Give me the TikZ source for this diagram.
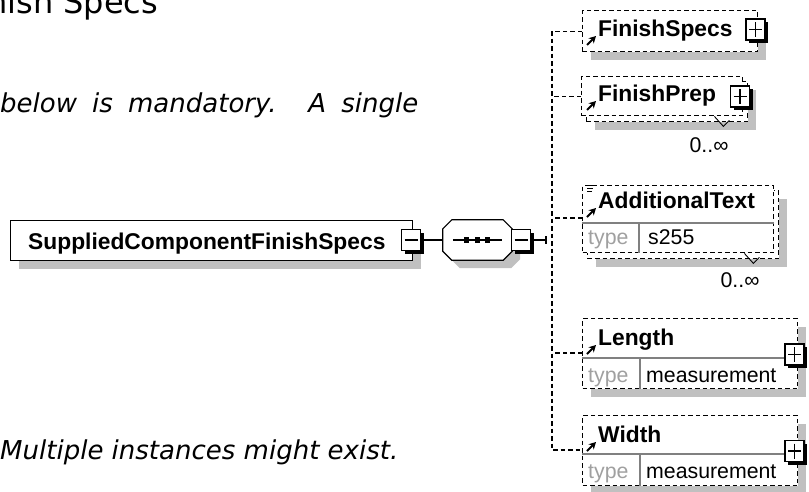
\documentclass[tikz,border=0pt]{standalone}
\usepackage{fontspec}
\setmainfont{Liberation Sans}
\newfontfamily\docfont{DejaVu Sans}
\usetikzlibrary{
  arrows.meta, shadows,
  positioning, calc
}
\usepackage{xcolor}
\definecolor{ink}       {HTML}{000000}
\definecolor{shadowgray}{HTML}{C0C0C0}
\definecolor{rulegray}  {HTML}{808080}
\definecolor{typegray}  {HTML}{A0A0A0}

\newcommand\lblfont{\fontsize{22.8pt}{25pt}\selectfont\bfseries}
\newcommand\cellfont{\fontsize{21.3pt}{24pt}\selectfont}
\newcommand\docsize{\fontsize{26pt}{30pt}\selectfont}

\tikzset{
  shade/.style   = {drop shadow={shadow xshift=8pt, shadow yshift=-8pt,
                    fill=shadowgray, opacity=1}},
  elem/.style    = {draw=ink, line width=1.2pt, fill=white, inner sep=0pt,
                    anchor=north west},
  optelem/.style = {elem, dash pattern=on 4.5pt off 3pt, line width=1.4pt},
  pmbox/.style   = {draw=ink, fill=white, line width=1.3pt, inner sep=0pt,
                    minimum width=19pt, minimum height=21pt,
                    drop shadow={shadow xshift=3pt, shadow yshift=-3pt,
                    fill=ink, opacity=1}},
  minus/.style   = {pmbox, path picture={
                    \draw[line width=1.3pt]
                      ([xshift=3pt]path picture bounding box.west) --
                      ([xshift=-3pt]path picture bounding box.east);}},
  plus/.style    = {pmbox, path picture={
                    \draw[line width=1.3pt]
                      ([xshift=3pt]path picture bounding box.west) --
                      ([xshift=-3pt]path picture bounding box.east)
                      ([yshift=-3pt]path picture bounding box.north) --
                      ([yshift=3pt]path picture bounding box.south);}},
  seqspot/.style = {inner sep=0pt, minimum width=69pt, minimum height=40pt},
  seqline/.style = {draw=ink, line width=1.2pt, fill=white, shade},
  lbl/.style     = {font=\lblfont, inner sep=0pt, anchor=base west},
  cell/.style    = {font=\cellfont, inner sep=0pt, anchor=base west},
  typelbl/.style = {cell, text=typegray},
  card/.style    = {font=\cellfont, inner sep=0pt},
  doc/.style     = {font=\docfont\docsize\itshape, inner sep=0pt, anchor=base west},
  wire/.style    = {draw=ink, line width=1.2pt},
  busline/.style = {draw=ink, line width=1.4pt, dash pattern=on 4.5pt off 3pt},
  sepline/.style = {draw=rulegray, line width=1.2pt},
  refarr/.style  = {draw=ink, line width=2pt, -{Stealth[length=7pt, width=7.5pt]}},
  notch/.style   = {draw=ink, line width=0.9pt},
}

\begin{document}
\begin{tikzpicture}[x=1pt, y=-1pt]
  \useasboundingbox (0,0) rectangle (809,491);
  \clip (0,0) rectangle (809,491);

  % document text around the diagram
  \node[doc, font=\docfont\fontsize{32pt}{34pt}\selectfont] (heading) at (-13,13) {nish Specs};
  \node[doc] (note1) at (0,112) {\makebox[418pt][s]{below is mandatory. A single}};
  \node[doc] (note2) at (0,459) {Multiple instances might exist.};

  % root element and sequence
  \node[elem, shade, minimum width=402pt, minimum height=40pt] (root) at (10,220) {};
  \node[lbl] (rootlbl) at (28,249) {SuppliedComponentFinishSpecs};
  \node[minus] (rootpm) at (411,240) {};
  \node[seqspot] (seq) at (477.5,240) {};
  \coordinate (join) at (546,240);
  \coordinate (bus)  at (552,240);

  \draw[wire] (rootpm) -- (seq);
  \draw[seqline] ([xshift=9pt]seq.north west) -- ([xshift=-9pt]seq.north east)
    -- ([yshift=-9pt]seq.north east) -- ([yshift=9pt]seq.south east)
    -- ([xshift=-9pt]seq.south east) -- ([xshift=9pt]seq.south west)
    -- ([yshift=9pt]seq.south west) -- ([yshift=-9pt]seq.north west) -- cycle;
  \draw[wire] ([xshift=10pt]seq.west) -- ([xshift=-10pt]seq.east);
  \foreach \dx in {-11,0,10}
    \fill[ink] ([xshift=\dx pt]seq.center) +(-2.6,-2.6) rectangle +(2.6,2.6);
  \node[minus] (seqpm) at (521,240) {};
  \draw[wire] (seqpm) -- (join);
  \draw[wire] (join) ++(0,-4) -- ++(0,8);

  % FinishSpecs
  \node[optelem, shade, minimum width=175pt, minimum height=41pt] (fspecs) at (582,10) {};
  \node[lbl] (fspecslbl) at (598,36) {FinishSpecs};
  \node[plus] (fspecspm) at (755.5,29.5) {};

  % FinishPrep (0..n)
  \node[optelem, shade, minimum width=161pt, minimum height=40pt] (fprepbk) at (586,81) {};
  \node[optelem, minimum width=161pt, minimum height=39pt] (fprep) at (581,76) {};
  \node[lbl] (fpreplbl) at (598,101) {FinishPrep};
  \node[plus] (fpreppm) at (740,96.5) {};
  \draw[notch] ([shift={(-34,-6)}]fprepbk.south east) -- ++(9,10) -- ++(6,-6);
  \node[card] (fprepcard) at (709,145) {0..∞};

  % AdditionalText (0..n)
  \node[optelem, shade, minimum width=191pt, minimum height=68pt] (addtextbk) at (587,190) {};
  \node[optelem, minimum width=191pt, minimum height=67pt] (addtext) at (582,185) {};
  \draw[sepline] ($(addtext.north west)+(0,38)$) -- ($(addtext.north east)+(0,38)$);
  \draw[sepline] ($(addtext.north west)+(57,38)$) -- ($(addtext.south west)+(57,0)$);
  \node[lbl] (addtextlbl) at (598,208) {AdditionalText};
  \foreach \dy/\len in {0/6, 3/6, 6/5}
    \draw[line width=0.9pt] ([shift={(-11,-23+\dy)}]addtextlbl.base west) -- ++(\len,0);
  \node[typelbl] (addtexttype) at (588,244) {type};
  \node[cell] (addtextval) at (648,244) {s255};
  \draw[notch] ([shift={(-35,-6)}]addtextbk.south east) -- ++(9,10) -- ++(6,-6);
  \node[card] (addtextcard) at (740,280) {0..∞};

  % Length
  \node[optelem, shade, minimum width=215pt, minimum height=70pt] (length) at (582,318) {};
  \draw[sepline] ($(length.north west)+(0,40)$) -- ($(length.north east)+(0,40)$);
  \draw[sepline] ($(length.north west)+(58,40)$) -- ($(length.south west)+(58,0)$);
  \node[lbl] (lengthlbl) at (598,345) {Length};
  \node[typelbl] (lengthtype) at (588,382) {type};
  \node[cell] (lengthval) at (646,382) {measurement};
  \node[plus] (lengthpm) at (794.5,354.5) {};

  % Width
  \node[optelem, shade, minimum width=215pt, minimum height=70pt] (width) at (582,415) {};
  \draw[sepline] ($(width.north west)+(0,39)$) -- ($(width.north east)+(0,39)$);
  \draw[sepline] ($(width.north west)+(58,39)$) -- ($(width.south west)+(58,0)$);
  \node[lbl] (widthlbl) at (598,442) {Width};
  \node[typelbl] (widthtype) at (588,478) {type};
  \node[cell] (widthval) at (646,478) {measurement};
  \node[plus] (widthpm) at (794.5,451) {};

  % reference arrows
  \foreach \l in {fspecslbl, fpreplbl, addtextlbl, lengthlbl, widthlbl}
    \draw[refarr] ([shift={(-11,9)}]\l.base west) -- ([shift={(-2,0)}]\l.base west);

  % sequence bus
  \draw[busline] (fspecs.west) -| (bus) |- ($(width.north west)+(0,35)$);
  \draw[busline] (fprep.west) -- (fprep.west -| bus);
  \draw[busline] ($(addtext.north west)+(0,33)$) -- ++(-30,0);
  \draw[busline] ($(length.north west)+(0,35)$) -- ++(-30,0);

\end{tikzpicture}
\end{document}
